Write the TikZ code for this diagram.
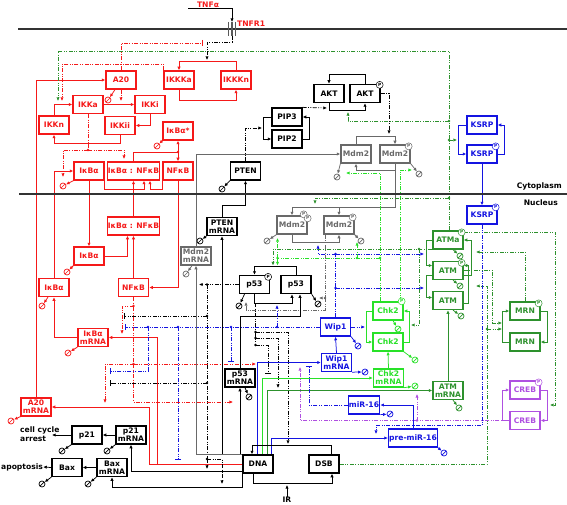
\documentclass[tikz,border=0pt]{standalone}
\usepackage{fontspec}
\setmainfont{DejaVu Sans}
\usepackage{tikz}
\usetikzlibrary{arrows.meta,positioning,calc}
\pgfdeclarelayer{background}
\pgfsetlayers{background,main}

\definecolor{nfred}{RGB}{245,25,25}
\definecolor{mdmgray}{RGB}{105,105,105}
\definecolor{wipblue}{RGB}{20,20,225}
\definecolor{chkgreen}{RGB}{40,225,40}
\definecolor{atmgreen}{RGB}{45,145,45}
\definecolor{crebpurple}{RGB}{175,80,225}

\begin{document}
\begin{tikzpicture}[x=1pt, y=-1pt, >={Latex[length=3.6pt,width=3.3pt]},
    box/.style={draw, line width=1.3pt, fill=white, minimum width=30pt, minimum height=18pt, inner sep=0.6pt, align=center, font={\bfseries\fontsize{7.6}{7.8}\selectfont}},
    rbox/.style={box, draw=nfred, text=nfred},
    kbox/.style={box, draw=black},
    gybox/.style={box, draw=mdmgray, text=mdmgray},
    bbox/.style={box, draw=wipblue, text=wipblue},
    lgbox/.style={box, draw=chkgreen, text=chkgreen},
    gbox/.style={box, draw=atmgreen, text=atmgreen},
    pbox/.style={box, draw=crebpurple, text=crebpurple},
    lab/.style={font={\bfseries\fontsize{7.6}{8.8}\selectfont}, inner sep=0pt},
    phos/.style={circle, draw=#1, text=#1, fill=white, line width=0.5pt, minimum size=7pt, inner sep=0pt, font={\bfseries\fontsize{4.3}{4.3}\selectfont}},
    degr/.style={circle, draw=#1, fill=white, line width=0.7pt, minimum size=6pt, inner sep=0pt, path picture={\draw[#1, line width=0.7pt] (path picture bounding box.south west) -- (path picture bounding box.north east);}},
    rl/.style={draw=nfred, line width=0.8pt},
    kl/.style={draw=black, line width=0.75pt},
    gyl/.style={draw=mdmgray, line width=0.75pt},
    bl/.style={draw=wipblue, line width=0.75pt},
    lgl/.style={draw=chkgreen, line width=0.75pt},
    gl/.style={draw=atmgreen, line width=0.75pt},
    pl/.style={draw=crebpurple, line width=0.75pt},
    dd/.style={dash pattern=on 4pt off 1.5pt on 0.8pt off 1.5pt on 0.8pt off 1.5pt},
    inh/.style={-{Bar[width=6pt]}}]

    \useasboundingbox (0,0) rectangle (567,505);

    % Membranes and compartment labels
    \coordinate (memL) at (18,29);
    \coordinate (memR) at (567,29);
    \coordinate (nucL) at (19,194);
    \coordinate (nucR) at (567,194);
    \draw[line width=1.6pt, black!80] (memL) -- (memR);
    \draw[line width=1.2pt, black!80] (nucL) -- (nucR);
    \foreach \x in {228.5,232,235.5}
        \draw[line width=1.3pt, black!65] (\x,22) -- (\x,36);
    \node[lab, text=nfred] (tnfa) at (208,4.5) {TNFα};
    \node[lab, text=nfred, anchor=west] (tnfr1) at (237,24) {TNFR1};
    \node[lab, anchor=east] (cyto) at (562,186) {Cytoplasm};
    \node[lab, anchor=east] (nucl) at (558,203) {Nucleus};
    \node[lab, anchor=west, align=left] (cca) at (20,434.5) {cell cycle\\arrest};
    \node[lab, anchor=west] (apop) at (1,467) {apoptosis};
    \node[lab] (ir) at (287,500) {IR};

    % Cytoplasm species
    \node[rbox] (a20) at (121,80) {A20};
    \node[rbox] (ikkka) at (179,80) {IKKKa};
    \node[rbox] (ikkkn) at (236,80) {IKKKn};
    \node[rbox] (ikka) at (88,104.5) {IKKa};
    \node[rbox] (ikki) at (150,104.5) {IKKi};
    \node[rbox] (ikkn) at (54,125) {IKKn};
    \node[rbox] (ikkii) at (120,125.5) {IKKii};
    \node[rbox] (ikbap) at (178,131) {IκBα*};
    \node[rbox] (ikbac) at (89,171) {IκBα};
    \node[rbox, minimum width=49pt] (ikbanfkbc) at (133.5,171) {IκBα : NFκB};
    \node[rbox] (nfkbc) at (178,171) {NFκB};
    \node[kbox] (pten) at (245.5,171) {PTEN};
    \node[kbox] (pip3) at (287,117) {PIP3};
    \node[kbox] (pip2) at (287,139) {PIP2};
    \node[kbox] (akt) at (329,93.5) {AKT};
    \node[kbox] (aktp) at (365,93.5) {AKT};
    \node[gybox] (mdm2c) at (356,154) {Mdm2};
    \node[gybox] (mdm2pc) at (395,154) {Mdm2};
    \node[bbox] (ksrp) at (482,125) {KSRP};
    \node[bbox] (ksrpp) at (482,154) {KSRP};

    % Nucleus species
    \node[bbox] (ksrpn) at (482,215) {KSRP};
    \node[rbox, minimum width=49pt] (ikbanfkbn) at (133.5,226) {IκBα : NFκB};
    \node[rbox] (ikban) at (89,256) {IκBα};
    \node[kbox] (ptenmrna) at (222,226.5) {PTEN\\mRNA};
    \node[gybox] (mdm2mrna) at (196,256) {Mdm2\\mRNA};
    \node[gybox] (mdm2ppn) at (292,225) {Mdm2};
    \node[gybox] (mdm2pn) at (339,225) {Mdm2};
    \node[rbox] (ikbal) at (54,287.5) {IκBα};
    \node[rbox] (nfkbn) at (133.5,287.5) {NFκB};
    \node[kbox] (p53p) at (254.5,284.5) {p53};
    \node[kbox] (p53) at (296,284.5) {p53};
    \node[bbox] (wip1) at (335.5,327) {Wip1};
    \node[lgbox] (chk2p) at (388,311) {Chk2};
    \node[lgbox] (chk2) at (388,342) {Chk2};
    \node[gbox] (atma) at (448,240) {ATMa};
    \node[gbox] (atmp) at (448,270.5) {ATM};
    \node[gbox] (atm) at (448,300.5) {ATM};
    \node[gbox] (mrnp) at (525,311) {MRN};
    \node[gbox] (mrn) at (525,342) {MRN};
    \node[rbox] (ikbamrna) at (93,337.5) {IκBα\\mRNA};
    \node[bbox] (wip1mrna) at (336.5,362.5) {Wip1\\mRNA};
    \node[lgbox] (chk2mrna) at (388.5,378) {Chk2\\mRNA};
    \node[kbox] (p53mrna) at (240,378) {p53\\mRNA};
    \node[gbox] (atmmrna) at (448,390.5) {ATM\\mRNA};
    \node[pbox] (crebp) at (525,390) {CREB};
    \node[pbox] (creb) at (525,420.5) {CREB};
    \node[bbox] (mir16) at (364,405) {miR-16};
    \node[rbox] (a20mrna) at (36,407) {A20\\mRNA};
    \node[bbox, minimum width=46pt] (premir16) at (413,438) {pre-miR-16};
    \node[kbox] (p21) at (87,435) {p21};
    \node[kbox] (p21mrna) at (131,435) {p21\\mRNA};
    \node[kbox] (bax) at (67,467.5) {Bax};
    \node[kbox] (baxmrna) at (112,467.5) {Bax\\mRNA};
    \node[kbox] (dna) at (258,464) {DNA};
    \node[kbox] (dsb) at (324,464) {DSB};

    % Phosphate marks
    \node[phos=black] (aktpP) at ([xshift=-1,yshift=-1]aktp.north east) {P};
    \node[phos=mdmgray] (mdm2pcP) at ([xshift=-2,yshift=-2]mdm2pc.north east) {P};
    \node[phos=wipblue] (ksrppP) at ([xshift=-2,yshift=-2]ksrpp.north east) {P};
    \node[phos=wipblue] (ksrpnP) at ([xshift=-2,yshift=-2]ksrpn.north east) {P};
    \node[phos=mdmgray] (mdm2ppnP1) at ([xshift=-4,yshift=1]mdm2ppn.north east) {P};
    \node[phos=mdmgray] (mdm2ppnP2) at ([xshift=0,yshift=-3]mdm2ppn.north east) {P};
    \node[phos=mdmgray] (mdm2pnP) at ([xshift=-2,yshift=-2]mdm2pn.north east) {P};
    \node[phos=black] (p53pP) at ([xshift=-2,yshift=-2]p53p.north east) {P};
    \node[phos=chkgreen] (chk2pP) at ([xshift=-2,yshift=0]chk2p.north east) {P};
    \node[phos=atmgreen] (atmaP) at ([xshift=-2,yshift=-2]atma.north east) {P};
    \node[phos=atmgreen] (atmpP) at ([xshift=-2,yshift=-2]atmp.north east) {P};
    \node[phos=atmgreen] (mrnpP) at ([xshift=-2,yshift=-2]mrnp.north east) {P};
    \node[phos=crebpurple] (crebpP) at ([xshift=-2,yshift=-2]crebp.north east) {P};

    % Degradation sinks
    \node[degr=nfred] (a20d) at (108,100) {};
    \node[degr=nfred] (ikbapd) at (157,146) {};
    \node[degr=nfred] (ikbacd) at (63,186) {};
    \node[degr=black] (ptend) at (222,189) {};
    \node[degr=mdmgray] (mdm2cd) at (337,177) {};
    \node[degr=mdmgray] (mdm2pcd) at (419,174) {};
    \node[degr=black] (ptenmrnad) at (200,241) {};
    \node[degr=mdmgray] (mdm2mrnad) at (186,274) {};
    \node[degr=mdmgray] (mdm2ppnd) at (267,241) {};
    \node[degr=mdmgray] (mdm2pnd) at (361,241) {};
    \node[degr=nfred] (ikband) at (67,272) {};
    \node[degr=nfred] (ikbald) at (42,306) {};
    \node[degr=black] (p53pd) at (239,306) {};
    \node[degr=black] (p53d) at (318,304) {};
    \node[degr=wipblue] (wip1d) at (358,346) {};
    \node[degr=chkgreen] (chk2pd) at (398,329) {};
    \node[degr=chkgreen] (chk2d) at (415,360) {};
    \node[degr=nfred] (ikbamrnad) at (68,353) {};
    \node[degr=wipblue] (wip1mrnad) at (365,372) {};
    \node[degr=chkgreen] (chk2mrnad) at (415,386) {};
    \node[degr=black] (p53mrnad) at (249,397) {};
    \node[degr=atmgreen] (atmad) at (460,256) {};
    \node[degr=atmgreen] (atmpd) at (460,286) {};
    \node[degr=atmgreen] (atmd) at (461,316) {};
    \node[degr=atmgreen] (atmmrnad) at (459,408) {};
    \node[degr=wipblue] (mir16d) at (390,414) {};
    \node[degr=wipblue] (premir16d) at (444,453) {};
    \node[degr=nfred] (a20mrnad) at (11,421) {};
    \node[degr=black] (p21d) at (62,451) {};
    \node[degr=black] (p21mrnad) at (107,451) {};
    \node[degr=black] (baxd) at (42,484) {};
    \node[degr=black] (baxmrnad) at (88,484) {};

    % Target points on reaction lines and branch points
    \coordinate (tnfin) at (188,8);
    \coordinate (rtop) at (232,22);
    \coordinate (rbot) at (232,36);
    \coordinate (tnfbar) at (203,43);
    \coordinate (ikkkcat) at (207,60);
    \coordinate (ikkcat) at (62,101);
    \coordinate (atmikk) at (58,101);
    \coordinate (a20cat) at (121,101);
    \coordinate (ikdot) at (88,150);
    \coordinate (ikcat1) at (63,177);
    \coordinate (ikcat2) at (124,159);
    \coordinate (ikdot2) at (178,152);
    \coordinate (ptencat) at (262,128);
    \coordinate (pipcat) at (327,108);
    \coordinate (gdot1) at (449,121);
    \coordinate (aktcat) at (348,112);
    \coordinate (gdot2) at (449,140);
    \coordinate (ksrpcat) at (457,140);
    \coordinate (mdmcat) at (389,134);
    \coordinate (gdot4) at (449,198);
    \coordinate (mdmimp) at (315,204);
    \coordinate (nfdot1) at (133.5,306);
    \coordinate (nfcat1) at (122,334);
    \coordinate (nfdot2) at (133.5,364);
    \coordinate (nfcat2) at (256,364);
    \coordinate (nfcat3) at (105,403);
    \coordinate (nfcat4) at (233,402);
    \coordinate (p53cat1) at (199,284.5);
    \coordinate (pdot1) at (207,284.5);
    \coordinate (pdot2) at (207,316);
    \coordinate (pdot3) at (207,383);
    \coordinate (pdot4) at (207,459);
    \coordinate (p53bar1) at (124,316);
    \coordinate (p53bar2) at (110,383);
    \coordinate (p21cat) at (207,469);
    \coordinate (baxcat) at (222,484);
    \coordinate (pdot5) at (255.5,332);
    \coordinate (pdot6) at (255.5,338);
    \coordinate (pdot7) at (255.5,345);
    \coordinate (repcat) at (288,444);
    \coordinate (p53cat3) at (278,388);
    \coordinate (p53bar3) at (268,374);
    \coordinate (wipbar1) at (125,327);
    \coordinate (wdot1) at (148,327);
    \coordinate (wdot2) at (178,327);
    \coordinate (wdot3) at (231,327);
    \coordinate (wdot4) at (277,327);
    \coordinate (wipbar2) at (110,371);
    \coordinate (wipbar3) at (178,460);
    \coordinate (wipbar4) at (231,362);
    \coordinate (p53dp) at (277,305);
    \coordinate (wdot5) at (335.5,288);
    \coordinate (wdot6) at (335.5,254);
    \coordinate (mdmdp) at (318,245);
    \coordinate (atmdp1) at (424,254);
    \coordinate (atmdp2) at (424,288);
    \coordinate (chkdp) at (365,327);
    \coordinate (mirbar) at (309,366);
    \coordinate (irhit) at (287,485);
    \coordinate (ccaend) at (52,435);
    \coordinate (gdot3) at (419,249);
    \coordinate (p53cat2) at (273,265.5);
    \coordinate (chkcat) at (411,325);
    \coordinate (mrncat) at (476,252);
    \coordinate (gdot6) at (487,329);
    \coordinate (dsbcat) at (476,286);
    \coordinate (mrncat2) at (502,329);
    \coordinate (mrncat3) at (502,323);
    \coordinate (crebcat) at (550,405);
    \coordinate (chkmdm1) at (346,173);
    \coordinate (chkmdm2) at (412,170);
    \coordinate (chkdot1) at (380,258);
    \coordinate (chkdot2) at (357,258);
    \coordinate (chkdot3) at (277.5,258);
    \coordinate (chkp53) at (277.5,265.5);
    \coordinate (chkmdm3) at (277.5,238);
    \coordinate (chkmdm4) at (357,242);
    \coordinate (ksrpcat2) at (376,434);
    \coordinate (crebcat1) at (300,367);
    \coordinate (pdotc) at (417,420.5);
    \coordinate (crebcat2) at (417,394);
    \coordinate (gydot1) at (325,298);
    \coordinate (mdmp53a) at (319,298);
    \coordinate (mdmp53b) at (246,302);

    \begin{pgfonlayer}{background}
    % TNF signalling at the membrane
    \draw[kl,->] (tnfin) -| (rtop);
    \draw[kl,dd,->] (rbot) -- ++(0,6) -| (ikkkcat);
    \draw[rl,dd,inh] (a20.north) |- (tnfbar);
    \draw[rl,->] (ikkkn.north) -- ++(0,-9) -| (ikkka.north);
    \draw[rl,->] (ikkka.south) -- ++(0,11) -| (ikkkn.south);
    \draw[rl,dd,->] (ikkka.north west) -- ++(0,-6) -| (ikkcat);

    % IKK module
    \draw[rl,dd,->] (a20.south) -- (a20cat);
    \draw[rl,->] (ikkn.north) |- (ikka.west);
    \draw[rl,->] (ikka.east) -- (ikki.west);
    \draw[rl,->] (ikki.south) |- (ikkii.east);
    \draw[rl,->] (ikkii.south) -- ++(0,8) -| (ikkn.south);
    \draw[rl,dd] (ikka.south) -- (ikdot);
    \draw[rl,dd,->] (ikdot) -| (ikcat1);
    \draw[rl,dd,->] (ikdot) -| (ikcat2);
    \draw[rl] (ikbanfkbc.north) |- (ikdot2);
    \draw[rl,->] (ikdot2) -- (ikbap.south);
    \draw[rl,->] (ikdot2) -- (nfkbc.north);

    % IkBa and NFkB shuttling
    \draw[rl,->] (ikbac.south east) -- ++(0,9) -| ([xshift=10.5]ikbanfkbc.south);
    \draw[rl,->] (nfkbc.south west) -- ++(0,9) -| ([xshift=16.5]ikbanfkbc.south);
    \draw[rl,->] (ikbanfkbn.north) -- (ikbanfkbc.south);
    \draw[rl,->] (ikbac.south) -- (ikban.north);
    \draw[rl,->] (nfkbc.south) |- (nfkbn.east);
    \draw[rl,->] (ikban.east) -| ([xshift=-6]ikbanfkbn.south);
    \draw[rl,->] (nfkbn.north) -- (ikbanfkbn.south);
    \draw[rl,->] (ikbal.north) |- (ikbac.west);
    \draw[rl,->] (ikbamrna.west) -| (ikbal.south);
    \draw[rl,->] (a20mrna.north) |- (a20.west);
    \draw[rl,->] (dna.west) -- ++(-85,0) |- (ikbamrna.east);
    \draw[rl,->] (dna.west) -- ++(-93,0) |- (a20mrna.east);

    % NFkB as transcription factor
    \draw[rl,dd] (nfkbn.south) -- (nfdot1) -- (nfdot2);
    \draw[rl,dd,->] (nfdot1) -| (nfcat1);
    \draw[rl,dd,->] (nfdot2) -- (nfcat2);
    \draw[rl,dd,->] (nfdot2) -| (nfcat3);
    \draw[rl,dd,->] (nfdot2) |- (nfcat4);

    % PTEN, PIP and AKT
    \draw[kl,->] (ptenmrna.north) -- ++(0,-11) -| (pten.south);
    \draw[kl,dd,->] (pten.north) |- (ptencat);
    \draw[kl,->] (pip3.west) -- ++(-8,0) |- (pip2.west);
    \draw[kl,->] (pip2.east) -- ++(7,0) |- (pip3.east);
    \draw[kl,dd,->] (pip3.north east) -- (pipcat);
    \draw[kl,->] (akt.south) -- ++(0,7.5) -| (aktp.south);
    \draw[kl,->] (aktp.north) -- ++(0,-9) -| (akt.north);
    \draw[kl,dd,->] (aktp.east) -| (mdmcat);

    % Mdm2 in cytoplasm and nucleus
    \draw[gyl,->] (mdm2mrna.north) |- (mdm2c.west);
    \draw[gyl,->] (mdm2c.north) -- ++(0,-8) -| (mdm2pc.north);
    \draw[gyl,->] (mdm2pc.south) -- ++(0,7) -| (mdm2c.south);
    \draw[gyl,->] (mdm2pc.south) -- ++(0,44) -| (mdm2ppn.north);
    \draw[gyl,->] ([yshift=-44]mdm2pc.south) -| (mdm2pn.north);
    \draw[gyl,->] (mdm2ppn.south) -- ++(0,8) -| (mdm2pn.south);
    \draw[gyl,dd,->] ([xshift=-14]mdm2pn.south) |- (mdmp53a);
    \draw[gyl,dd,->] (gydot1) -- ++(0,12) -| (mdmp53b);

    % p53 cycle
    \draw[kl,->] (p53.north) -- ++(0,-8) -| (p53p.north);
    \draw[kl,->] (p53p.south) -- ++(0,9) -| ([xshift=-4]p53.south);
    \draw[kl,->] (p53mrna.north) -- ++(0,-51.5) -| ([xshift=4]p53.south);
    \draw[kl,dd,->] (p53p.west) -- (p53cat1);
    \draw[kl,dd] (pdot1) -- (pdot2) -- (pdot3) -- (pdot4);
    \draw[kl,dd,inh] (pdot2) -- (p53bar1);
    \draw[kl,dd,inh] (pdot3) -- (p53bar2);
    \draw[kl,dd,->] (pdot4) -- (p21cat);
    \draw[kl,dd,->] (pdot4) -| (baxcat);
    \draw[kl,dd] ([xshift=1]p53p.south) ++(0,9) -- (pdot7);
    \draw[kl,dd,->] (pdot5) -| (repcat);
    \draw[kl,dd,->] (pdot6) -| (p53cat3);
    \draw[kl,dd,inh] (pdot7) -| (p53bar3);

    % Wip1 dephosphorylations
    \draw[bl,dd,inh] (wip1.west) -- (wipbar1);
    \draw[bl,dd,inh] (wdot1) |- (wipbar2);
    \draw[bl,dd,inh] (wdot2) -- (wipbar3);
    \draw[bl,dd,inh] (wdot3) -- (wipbar4);
    \draw[bl,dd,->] (wdot4) -- (p53dp);
    \draw[bl,dd] (wip1.north) -- (wdot6);
    \draw[bl,dd,->] (wdot6) -| (mdmdp);
    \draw[bl,dd,->] (wdot6) -- (atmdp1);
    \draw[bl,dd,->] (wdot5) -- (atmdp2);
    \draw[bl,dd,->] (wip1.east) -- (chkdp);

    % Transcripts from DNA
    \draw[kl,->] ([xshift=-18]dna.north) -- (p53mrna.south);
    \draw[kl,->] (dna.north west) -| (ptenmrna.south);
    \draw[gyl,->] (dna.north west) -| (mdm2mrna.south);
    \draw[kl,->] ([yshift=-7]dna.west) -| (p21mrna.south);
    \draw[kl,->] (dna.south west) -- ++(0,14) -| (baxmrna.south);
    \draw[kl,->] (p21mrna.west) -- (p21.east);
    \draw[kl,->] (baxmrna.west) -- (bax.east);
    \draw[kl,->] (p21.west) -- (ccaend);
    \draw[kl,->] (bax.west) -- (apop.east);
    \draw[bl,->] ([xshift=-1]dna.north) |- (wip1mrna.west);
    \draw[lgl,->] ([xshift=4]dna.north) |- (chk2mrna.west);
    \draw[gl,->] ([xshift=9]dna.north) |- (atmmrna.west);
    \draw[bl,->] ([xshift=13]dna.north) |- (premir16.west);
    \draw[bl,->] (wip1mrna.north) -- (wip1.south);
    \draw[lgl,->] (chk2mrna.north) -- (chk2.south);
    \draw[gl,->] (atmmrna.north) -- (atm.south);
    \draw[bl,->] (premir16.north) |- (mir16.east);
    \draw[bl,dd,inh] (mir16.west) -| (mirbar);

    % DNA damage
    \draw[kl,->] ([xshift=7]dsb.north) -- ++(0,-9) -| ([xshift=-6]dna.north);
    \draw[kl,->] ([xshift=-5]dna.south) -- ++(0,10) -| ([xshift=8]dsb.south);
    \draw[kl,->] (ir.north) -- (irhit);

    % Chk2 cycle and targets
    \draw[lgl,->] (chk2.east) -- ++(6,0) |- (chk2p.east);
    \draw[lgl,->] (chk2p.west) -- ++(-6,0) |- (chk2.west);
    \draw[lgl,dd,->] ([xshift=-8]chk2p.north) |- (chkmdm1);
    \draw[lgl,dd,->] ([xshift=12]chk2p.north) |- (chkmdm2);
    \draw[lgl,dd] (chkdot1) -- (chkdot3);
    \draw[lgl,dd,->] (chkdot3) -- (chkp53);
    \draw[lgl,dd,->] (chkdot3) -- (chkmdm3);
    \draw[lgl,dd,->] (chkdot2) -- (chkmdm4);

    % ATM cycle and targets
    \draw[gl,->] (atma.west) -- ++(-6,0) |- ([yshift=5]atmp.west);
    \draw[gl,->] ([yshift=-5]atmp.east) -- ++(8,0) |- (atma.east);
    \draw[gl,->] ([yshift=-5]atmp.west) -- ++(-6,0) |- ([yshift=3]atm.west);
    \draw[gl,->] ([yshift=-3]atm.east) -- ++(5,0) |- ([yshift=5]atmp.east);
    \draw[gl,dd,->] ([xshift=1]atma.north) -- ++(0,-179) -| (atmikk);
    \draw[gl,dd,->] (gdot1) -| (aktcat);
    \draw[gl,dd,->] (gdot2) -- (ksrpcat);
    \draw[gl,dd,->] (gdot4) -| (mdmimp);
    \draw[gl,dd,->] ([yshift=-9]atma.west) -| (p53cat2);
    \draw[gl,dd,->] (gdot3) |- (chkcat);
    \draw[gl,dd,->] ([yshift=8]atma.east) -- ++(92,0) |- (crebcat);
    \draw[gl,->] (mrn.west) -- ++(-7,0) |- (mrnp.west);
    \draw[gl,->] (mrnp.east) -- ++(7,0) |- (mrn.east);
    \draw[gl,dd,->] (mrnp.north) |- (mrncat);
    \draw[gl,dd] (dsb.east) -| (gdot6);
    \draw[gl,dd,->] (gdot6) |- (dsbcat);
    \draw[gl,dd,->] (gdot6) -- (mrncat2);
    \draw[gl,dd,->] (atmp.east) -- ++(29,0) |- (mrncat3);

    % KSRP and CREB
    \draw[bl,->] (ksrp.west) -- ++(-8,0) |- (ksrpp.west);
    \draw[bl,->] (ksrpp.east) -- ++(7,0) |- (ksrp.east);
    \draw[bl,->] (ksrpp.south) -- (ksrpn.north);
    \draw[bl,dd,->] (ksrpn.south) -- ++(0,201) -| (ksrpcat2);
    \draw[pl,->] (creb.west) -- ++(-7,0) |- (crebp.west);
    \draw[pl,->] (crebp.east) -- ++(7,0) |- (creb.east);
    \draw[pl,dd,->] (creb.west) -| (crebcat1);
    \draw[pl,dd,->] (pdotc) -- (crebcat2);

    % Degradation arrows
    \draw[rl,->] ([xshift=-6]a20.south) -- (a20d);
    \draw[rl,->] (ikbap.south west) -- (ikbapd);
    \draw[rl,->] (ikbac.south west) -- (ikbacd);
    \draw[kl,->] (pten.south west) -- (ptend);
    \draw[gyl,->] (mdm2c.south west) -- (mdm2cd);
    \draw[gyl,->] (mdm2pc.south east) -- (mdm2pcd);
    \draw[kl,->] (ptenmrna.south west) -- (ptenmrnad);
    \draw[gyl,->] ([xshift=-4]mdm2mrna.south) -- (mdm2mrnad);
    \draw[gyl,->] (mdm2ppn.south west) -- (mdm2ppnd);
    \draw[gyl,->] (mdm2pn.south east) -- (mdm2pnd);
    \draw[rl,->] (ikban.south west) -- (ikband);
    \draw[rl,->] ([xshift=-6]ikbal.south) -- (ikbald);
    \draw[kl,->] ([xshift=-10]p53p.south) -- (p53pd);
    \draw[kl,->] (p53.south east) -- (p53d);
    \draw[bl,->] (wip1.south east) -- (wip1d);
    \draw[lgl,->] ([xshift=5]chk2p.south) -- (chk2pd);
    \draw[lgl,->] (chk2.south east) -- (chk2d);
    \draw[rl,->] (ikbamrna.south west) -- (ikbamrnad);
    \draw[bl,->] (wip1mrna.south east) -- (wip1mrnad);
    \draw[lgl,->] (chk2mrna.south east) -- (chk2mrnad);
    \draw[kl,->] ([xshift=5]p53mrna.south) -- (p53mrnad);
    \draw[gl,->] ([xshift=5]atma.south) -- (atmad);
    \draw[gl,->] ([xshift=5]atmp.south) -- (atmpd);
    \draw[gl,->] ([xshift=5]atm.south) -- (atmd);
    \draw[gl,->] ([xshift=5]atmmrna.south) -- (atmmrnad);
    \draw[bl,->] (mir16.south east) -- (mir16d);
    \draw[bl,->] (premir16.south east) -- (premir16d);
    \draw[rl,->] (a20mrna.south west) -- (a20mrnad);
    \draw[kl,->] (p21.south west) -- (p21d);
    \draw[kl,->] (p21mrna.south west) -- (p21mrnad);
    \draw[kl,->] (bax.south west) -- (baxd);
    \draw[kl,->] (baxmrna.south west) -- (baxmrnad);

    % Branch dots
    \foreach \d in {ikdot,nfdot1,nfdot2}
        \fill[nfred] (\d) circle (1.3pt);
    \foreach \d in {pdot1,pdot2,pdot3,pdot4,pdot5,pdot6,pdot7}
        \fill[black] (\d) circle (1.3pt);
    \foreach \d in {wdot1,wdot2,wdot3,wdot4,wdot5,wdot6}
        \fill[wipblue] (\d) circle (1.3pt);
    \foreach \d in {gdot1,gdot2,gdot3,gdot4,gdot6}
        \fill[atmgreen] (\d) circle (1.3pt);
    \foreach \d in {chkdot1,chkdot2,chkdot3}
        \fill[chkgreen] (\d) circle (1.3pt);
    \fill[nfred] (ikdot2) circle (1.3pt);
    \fill[mdmgray] (gydot1) circle (1.3pt);
    \fill[crebpurple] (pdotc) circle (1.3pt);
    \end{pgfonlayer}

\end{tikzpicture}
\end{document}
